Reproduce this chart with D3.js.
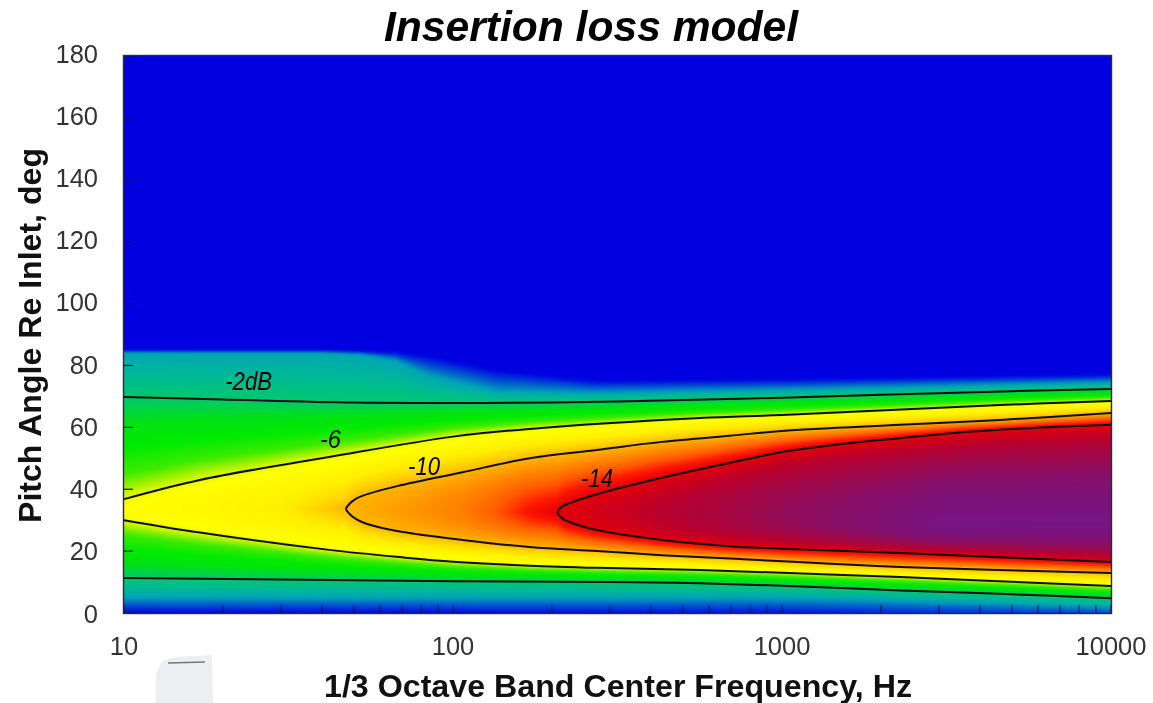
<!DOCTYPE html>
<html><head><meta charset="utf-8">
<script src="https://cdnjs.cloudflare.com/ajax/libs/d3/7.8.5/d3.min.js"></script>
<style>
html,body{margin:0;padding:0;background:#fff;width:1153px;height:703px;overflow:hidden}
#wrap{position:relative;width:1153px;height:703px;filter:blur(0.45px)}
canvas{position:absolute;left:124px;top:56px}
svg{position:absolute;left:0;top:0}
text{font-family:"Liberation Sans",Arial,sans-serif}
</style></head><body><div id="wrap"></div>
<script>
// ---- chart text
const titleText = "Insertion loss model";
const xTitle = "1/3 Octave Band Center Frequency, Hz";
const yTitle = "Pitch Angle Re Inlet, deg";
const xTickValues = [10,100,1000,10000];
const yTickValues = [0,20,40,60,80,100,120,140,160,180];

// ---- contour lines: [frequency Hz, pitch angle deg]
const upper2  = [[10,69.8],[20,69],[50,68],[100,67.9],[200,68],[500,68.8],[1000,69.6],[2000,70.5],[5000,71.7],[10000,72.4]];
const lower2  = [[10,11.3],[100,10.3],[300,10],[563,9.6],[1000,8.8],[2290,7.3],[4600,6.2],[10000,4.8]];
const upper6  = [[10,36.8],[17,43],[42,50.4],[100,57],[171,59.5],[563,63],[1000,64],[4600,67.2],[10000,68.5]];
const lower6  = [[10,30],[17,26],[42,20.4],[70,18],[100,16.6],[171,15.3],[274,14.6],[563,13.9],[2290,11.6],[10000,8.7]];
const upper10 = [[47.3,33.6],[48.5,35.3],[50.5,36.8],[53.5,38],[67.6,41],[107,45.5],[171,50],[274,52.7],[432,55.3],[694,57.3],[1000,58.8],[2290,60.8],[4600,62.4],[10000,64.6]];
const lower10 = [[47.3,33.6],[48.5,32],[50.5,30.5],[54,29],[67.6,26.5],[107,23.6],[171,21.3],[274,20],[432,18.7],[694,17.6],[2290,14.9],[10000,12.9]];
const upper14 = [[208,32.4],[214,34.3],[226,35.5],[274,38.4],[432,43.7],[694,48.5],[1000,52],[1430,54.3],[2290,56.5],[3630,58.5],[5800,59.8],[10000,60.8]];
const lower14 = [[208,32.4],[214,30.7],[226,29.4],[274,26.8],[432,23.6],[694,21.6],[1000,20.8],[2290,19.4],[4600,18],[10000,16.5]];

// ---- ridge of the response and the faint-edge levels
const peakLoss   = [[10,-6.6],[17,-7],[30,-8],[47.3,-10],[107,-11.2],[135,-12],[171,-13.2],[208,-14],[432,-15],[694,-15.8],[1000,-16.5],[2290,-17.6],[3000,-18],[10000,-18]];
const peakAngle  = [[10,33.5],[47.3,33.6],[208,32.4],[1000,31],[2500,28],[10000,28.5]];
const upperBlue  = [[10,84.7],[40,84.7],[53,84.6],[67,84.3],[85,83],[136,78.5],[274,75],[1000,75.5],[10000,77]];
const upper1     = [[10,84.3],[40,84.3],[53,83.5],[67,81.5],[85,76.5],[136,71.5],[274,71],[1000,72],[10000,74.5]];
const lower1     = [[10,5],[100,5],[1000,5],[4000,3.5],[10000,2]];
const floorLoss  = [[10,0],[1000,-0.1],[10000,-0.4]];

// ---- colour table: loss in dB to colour
const lossStops  = [0,-0.5,-1,-1.5,-2,-3,-4,-5,-5.5,-6,-6.4,-8,-9,-10,-12,-13,-14,-15,-16,-17,-18];
const lossColors = ["#0000e1","#0050d2","#00a5b4","#00b996","#00c86e","#00e114","#00eb00","#3ceb00","#96f000","#ebfa00","#ffff00","#fff000","#ffd700","#ffb400","#ff5a00","#ff1400","#e1000a","#b9002d","#a00848","#870f69","#781482"];

// ---- labels on contours
const contourLabels = [
 {t:"-2dB",f:20.3,a:72.1,w:47},{t:"-6",f:39.4,a:53.3,w:21},{t:"-10",f:73,a:44.6,w:32},{t:"-14",f:245,a:40.7,w:32}
];

const W=1153,H=703,m={l:124,r:1111,t:56,b:613};
const x=d3.scaleLog().domain([10,10000]).range([m.l,m.r]);
const y=d3.scaleLinear().domain([0,180]).range([m.b,m.t]);
const yLabel=d3.scaleLinear().domain([0,180]).range([622.5,62.5]);
const col=d3.scaleLinear().domain(lossStops).range(lossColors).interpolate(d3.interpolateRgb);
const along=pts=>d3.scaleLog().domain(pts.map(d=>d[0])).range(pts.map(d=>d[1])).clamp(true);
const fU2=along(upper2),fL2=along(lower2),fU6=along(upper6),fL6=along(lower6),
      fU10=along(upper10),fL10=along(lower10),fU14=along(upper14),fL14=along(lower14),
      fP=along(peakLoss),fA=along(peakAngle),fB=along(upperBlue),fU1=along(upper1),fL1=along(lower1),fF=along(floorLoss);
const tip10=upper10[0][0],tip14=upper14[0][0];

// rounded ridge: the profile between the innermost contour and the peak bends towards a parabola,
// and straightens out near each contour tip so the field stays continuous along frequency
const ridge=[0.25,0.5,0.75], rounded=[0.4375,0.75,0.9375];
const tipFade=d3.scaleLinear().domain([0,0.3]).range([0,1]).clamp(true);

// ---- heat field
const cw=m.r-m.l,ch=m.b-m.t;
const off=document.createElement("canvas");off.width=cw;off.height=ch;
const octx=off.getContext("2d");const img=octx.createImageData(cw,ch);
for(let i=0;i<cw;i++){
  const f=x.invert(m.l+i+0.5);
  const pk=fP(f),ca=fA(f);
  const w=tipFade(Math.min(Math.abs(Math.log10(f/tip10)),Math.abs(Math.log10(f/tip14))));
  const lo=[[0,fF(f)],[fL1(f),-1],[fL2(f),-2],[fL6(f),-6]];
  const hi=[[fU6(f),-6],[fU2(f),-2],[fU1(f),-1],[fB(f),0],[180,0]];
  if(f>tip10){lo.push([fL10(f),-10]);hi.unshift([fU10(f),-10]);}
  if(f>tip14){lo.push([fL14(f),-14]);hi.unshift([fU14(f),-14]);}
  const a=lo[lo.length-1],b=hi[0];
  const st=lo.slice();
  const r=n=>ridge[n]*(1-w)+rounded[n]*w;
  ridge.forEach((t,n)=>st.push([a[0]+(ca-a[0])*t,a[1]+(pk-a[1])*r(n)]));
  st.push([ca,pk]);
  [2,1,0].forEach(n=>st.push([b[0]+(ca-b[0])*ridge[n],b[1]+(pk-b[1])*r(n)]));
  const all=st.concat(hi);
  const prof=d3.scaleLinear().domain(all.map(d=>d[0])).range(all.map(d=>d[1]));
  for(let j=0;j<ch;j++){
    const c=d3.rgb(col(prof(y.invert(m.t+j+0.5))));
    const k=(j*cw+i)*4;img.data[k]=c.r;img.data[k+1]=c.g;img.data[k+2]=c.b;img.data[k+3]=255;
  }
}
octx.putImageData(img,0,0);
const cv=document.createElement("canvas");cv.width=cw;cv.height=ch;
const ctx=cv.getContext("2d");ctx.drawImage(off,0,0);ctx.filter="blur(1.5px)";ctx.drawImage(off,0,0);
document.getElementById("wrap").appendChild(cv);

// ---- vector layer
const svg=d3.select("#wrap").append("svg").attr("width",W).attr("height",H);
const line=d3.line().x(d=>x(d[0])).y(d=>y(d[1])).curve(d3.curveCatmullRom.alpha(0.5));
const closedPath=(u,l)=>u.slice().reverse().concat(l.slice(1));
const lines=[upper2,lower2,upper6,lower6,closedPath(upper10,lower10),closedPath(upper14,lower14)];
svg.append("g").selectAll("path").data(lines).join("path")
  .attr("d",line).attr("fill","none").attr("stroke","#0e0e0e").attr("stroke-width",2);

// ticks inside plot
const minor=[];for(let d=10;d<10000;d*=10)for(let k=2;k<=9;k++)minor.push(d*k);
svg.append("g").selectAll("line").data(minor.concat(xTickValues)).join("line")
  .attr("x1",d=>x(d)).attr("x2",d=>x(d)).attr("y1",m.b).attr("y2",m.b-8)
  .attr("stroke","#14143c").attr("stroke-width",1.1);
svg.append("g").selectAll("line").data(yTickValues).join("line")
  .attr("x1",m.l).attr("x2",m.l+9).attr("y1",d=>y(d)).attr("y2",d=>y(d))
  .attr("stroke","#14143c").attr("stroke-width",1.2);
svg.append("rect").attr("x",m.l-0.5).attr("y",m.t-0.5).attr("width",cw+1).attr("height",ch+1)
  .attr("fill","none").attr("stroke","#2a2a3a").attr("stroke-width",1.4);

// tick labels
svg.append("g").selectAll("text").data(xTickValues).join("text")
  .attr("x",d=>x(d)).attr("y",655).attr("text-anchor","middle").attr("font-size",25.5).attr("fill","#333").text(d=>d);
svg.append("g").selectAll("text").data(yTickValues).join("text")
  .attr("x",98).attr("y",d=>yLabel(d)).attr("text-anchor","end").attr("font-size",25.5).attr("fill","#333").text(d=>d);

// titles
svg.append("text").attr("x",591).attr("y",41).attr("text-anchor","middle").attr("font-size",42.6)
  .attr("font-weight","bold").attr("font-style","italic").attr("fill","#000").text(titleText);
svg.append("text").attr("x",618).attr("y",697).attr("text-anchor","middle").attr("font-size",31.5)
  .attr("font-weight","bold").attr("fill","#111").attr("textLength",588).attr("lengthAdjust","spacingAndGlyphs").text(xTitle);
svg.append("text").attr("transform","translate(41,335.5) rotate(-90)").attr("text-anchor","middle").attr("font-size",31.5)
  .attr("font-weight","bold").attr("fill","#111").attr("textLength",375).attr("lengthAdjust","spacingAndGlyphs").text(yTitle);

// contour labels
svg.append("g").selectAll("text").data(contourLabels).join("text")
  .attr("x",d=>x(d.f)).attr("y",d=>y(d.a)).attr("font-size",25.5).attr("font-style","italic").attr("fill","#000")
  .attr("textLength",d=>d.w).attr("lengthAdjust","spacingAndGlyphs").text(d=>d.t);

// small photo fragment under the axis
const g=svg.append("g");
g.append("path").attr("d","M162,661 L176,657 L212,655 L213,703 L156,703 L156,674 Z").attr("fill","#eceef2");
g.append("path").attr("d","M168,663 L205,662").attr("stroke","#777").attr("stroke-width",1.6);
</script></body></html>
